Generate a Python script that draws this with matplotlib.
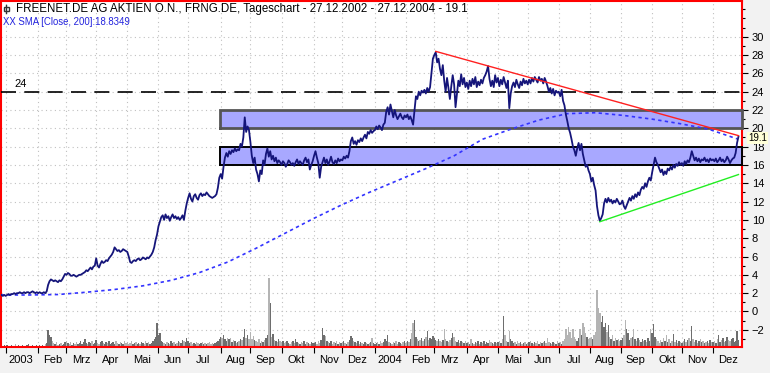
import matplotlib
matplotlib.use('Agg')
import matplotlib.pyplot as plt
import matplotlib.ticker as ticker
import numpy as np
import pandas as pd

title = 'FREENET.DE AG AKTIEN O.N., FRNG.DE, Tageschart - 27.12.2002 - 27.12.2004 - 19.1'
sma_title = 'XX SMA [Close, 200]:18.8349'
month_names = ['Jan', 'Feb', 'Mrz', 'Apr', 'Mai', 'Jun', 'Jul', 'Aug', 'Sep', 'Okt', 'Nov', 'Dez']

# daily closes, one row per month (Dez 2002 ... Dez 2004)
close = [
    1.8, 1.7, 1.8,
    1.7, 1.8, 1.9, 1.8, 1.9, 1.9, 2.0, 1.9, 2.0, 2.0, 2.1, 2.0, 2.0, 2.1, 2.0, 2.1, 2.1, 2.0, 2.1, 2.2, 2.1, 2.0, 2.1,
    2.0, 2.1, 2.0, 2.0, 2.1, 2.0, 2.2, 2.9, 3.3, 3.5, 3.4, 3.3, 3.4, 3.3, 3.2, 3.4, 3.3, 3.5, 3.8, 4.1,
    4.0, 4.2, 4.1, 3.9, 3.9, 4.0, 3.9, 3.8, 3.9, 4.0, 4.0, 4.1, 4.2, 4.3, 4.5, 4.4, 4.6, 4.8, 4.6, 4.9, 5.0,
    5.8, 5.0, 4.8, 5.2, 5.5, 5.3, 5.4, 5.6, 5.5, 5.8, 6.0, 6.2, 6.5, 7.0, 6.8, 6.6, 6.7, 6.5, 6.6, 6.8, 6.7, 6.6,
    6.5, 6.0, 5.4, 5.3, 5.5, 5.6, 5.5, 5.7, 5.8, 5.6, 5.7, 5.9, 5.8, 5.7, 5.9, 5.8, 6.0, 6.2, 6.5, 7.0, 7.8, 8.4,
    9.3, 9.8, 10.3, 10.5, 10.0, 10.6, 10.2, 10.4, 9.9, 10.3, 10.6, 10.2, 10.4, 10.1, 10.3, 10.0, 10.2, 10.5, 10.0, 11.0, 11.8,
    12.4, 12.9, 12.3, 12.0, 12.6, 12.8, 12.4, 12.2, 12.7, 12.9, 12.6, 12.8, 12.7, 13.0, 12.8, 12.6, 12.5, 12.4, 12.5, 12.6, 12.8, 13.5, 14.6,
    15.0, 14.5, 15.8, 16.8, 17.3, 16.9, 17.5, 17.2, 17.6, 17.4, 17.8, 17.5, 17.7, 17.6, 18.3, 18.0, 19.0, 21.2, 19.6, 20.2, 19.8,
    18.5, 17.0, 16.2, 16.8, 15.5, 15.0, 14.2, 15.4, 15.0, 16.5, 16.0, 17.2, 17.8, 16.9, 17.5, 16.6, 17.0, 16.4, 16.8, 16.2, 16.5, 16.3,
    16.0, 16.4, 16.2, 15.8, 16.1, 16.5, 16.3, 16.0, 16.2, 15.9, 16.3, 16.6, 16.1, 16.4, 16.2, 16.0, 16.5, 16.8, 16.3, 16.6, 15.5, 16.0, 16.4,
    17.0, 17.5, 16.8, 16.2, 14.6, 15.8, 16.3, 16.8, 16.2, 16.6, 16.0, 16.4, 16.9, 16.3, 16.1, 16.5, 16.2, 16.7, 16.4, 16.6,
    16.5, 16.9, 16.7, 17.0, 16.8, 17.5, 18.6, 19.0, 18.3, 18.6, 18.2, 18.7, 18.5, 18.9, 18.6, 19.0, 19.3, 18.9, 19.6, 19.4, 19.8, 19.5, 19.7,
    19.8, 20.2, 19.9, 20.3, 20.1, 19.8, 20.4, 20.6, 21.8, 22.3, 21.5, 22.6, 21.9, 21.2, 22.0, 21.4, 21.0, 21.3, 21.6, 21.2, 21.0, 21.4,
    21.2, 21.5, 21.0, 21.3, 20.9, 20.4, 22.0, 23.5, 23.2, 24.0, 23.6, 24.1, 23.9, 24.2, 23.8, 24.4, 24.0, 24.5, 26.0, 27.6,
    28.0, 28.3, 27.2, 27.6, 26.5, 25.8, 26.9, 25.2, 24.0, 25.5, 24.4, 23.2, 24.6, 25.8, 24.8, 22.3, 23.8, 25.2, 24.6, 25.9, 24.8, 25.5, 24.5,
    25.0, 24.3, 25.2, 24.6, 25.4, 24.8, 25.6, 24.5, 25.1, 24.7, 25.3, 24.9, 25.5, 25.8, 26.2, 26.8, 25.4, 24.6, 25.2, 24.5, 25.8, 25.0,
    25.5, 24.6, 25.3, 24.8, 25.6, 25.0, 24.4, 25.2, 22.2, 23.8, 24.6, 25.0, 24.5, 25.3, 24.8, 24.4, 25.1, 24.7, 25.4, 24.9, 25.2,
    24.8, 25.3, 24.9, 25.5, 25.1, 25.6, 25.3, 25.0, 25.6, 25.2, 25.4, 24.9, 25.5, 25.1, 24.6, 24.0, 24.4, 23.8, 24.3, 23.6, 24.1, 23.9,
    24.0, 23.5, 24.2, 23.0, 22.5, 21.5, 20.8, 20.0, 19.5, 18.8, 18.0, 17.6, 17.0, 17.8, 18.4, 17.6, 18.3, 17.2, 16.5, 15.8, 16.0, 15.4,
    15.0, 14.2, 14.6, 13.8, 13.2, 11.5, 10.5, 9.9, 10.2, 10.6, 11.8, 12.3, 11.9, 12.4, 12.0, 12.2, 11.8, 12.1, 11.9, 12.3, 12.0, 11.7,
    11.8, 12.1, 11.5, 11.2, 11.6, 12.0, 12.4, 12.1, 12.6, 12.3, 12.8, 12.5, 13.0, 12.7, 13.3, 13.6, 13.4, 14.0, 13.6, 14.2, 14.6, 14.3,
    15.2, 16.0, 16.8, 16.3, 16.0, 15.6, 15.2, 15.5, 14.9, 15.3, 15.0, 15.6, 15.4, 15.8, 15.5, 16.0, 15.7, 16.1, 15.9, 16.3, 16.0,
    16.2, 15.9, 16.4, 16.1, 16.5, 16.3, 16.8, 17.5, 17.0, 16.5, 16.8, 16.4, 16.7, 16.3, 16.6, 16.5, 16.8, 16.4, 16.6, 16.3, 16.7, 16.5,
    16.6, 16.4, 16.7, 16.3, 16.5, 16.8, 16.4, 16.6, 16.3, 16.5, 16.9, 16.6, 16.2, 16.5, 16.7, 16.8, 17.3, 18.4, 19.1,
]

# daily volume, relative units
volume = [
    1, 1, 2,
    1, 2, 1, 1, 2, 1, 1, 3, 1, 2, 1, 1, 2, 1, 1, 2, 3, 1, 1, 2, 1, 1, 2,
    1, 2, 1, 2, 1, 3, 4, 17, 12, 10, 6, 4, 3, 5, 2, 3, 4, 2, 3, 5,
    6, 4, 3, 5, 2, 4, 3, 5, 3, 4, 6, 3, 5, 8, 4, 3, 5, 4, 6, 3, 4,
    7, 4, 3, 5, 6, 4, 3, 5, 4, 6, 3, 4, 5, 3, 6, 4, 3, 5, 4, 3, 6, 4,
    5, 3, 4, 6, 3, 4, 5, 3, 4, 3, 5, 4, 3, 6, 4, 5, 3, 4, 6, 8, 10, 24,
    12, 14, 6, 5, 4, 3, 5, 4, 3, 6, 4, 5, 3, 4, 6, 5, 4, 7, 6, 5, 9,
    6, 4, 5, 3, 4, 3, 5, 4, 3, 4, 5, 3, 4, 3, 4, 5, 3, 4, 3, 4, 5, 6, 8,
    10, 9, 12, 8, 6, 9, 8, 9, 5, 7, 6, 4, 5, 6, 8, 7, 10, 18, 9, 12, 8,
    15, 8, 11, 7, 6, 5, 8, 4, 6, 5, 7, 9, 12, 69, 44, 10, 13, 7, 6, 5, 8, 6,
    5, 6, 4, 5, 6, 4, 3, 5, 6, 4, 8, 5, 4, 3, 5, 4, 6, 3, 5, 4, 3, 5, 4,
    4, 5, 3, 6, 4, 7, 19, 12, 11, 6, 5, 4, 6, 3, 5, 4, 6, 3, 5, 4,
    5, 6, 4, 3, 5, 7, 11, 9, 6, 5, 4, 6, 3, 5, 4, 3, 5, 4, 3, 4, 5, 9, 4,
    3, 4, 5, 3, 6, 4, 5, 8, 6, 12, 5, 4, 3, 5, 4, 6, 3, 5, 4, 3, 5, 6,
    4, 6, 5, 8, 14, 24, 27, 10, 8, 6, 7, 9, 6, 8, 10, 16, 7, 9, 8, 11,
    9, 7, 6, 8, 6, 5, 7, 18, 8, 6, 5, 7, 9, 14, 10, 6, 5, 7, 4, 6, 5, 4, 6,
    4, 5, 3, 8, 4, 3, 5, 4, 6, 3, 5, 4, 6, 3, 5, 4, 7, 5, 4, 3, 5, 4,
    5, 6, 4, 8, 31, 12, 6, 5, 16, 8, 6, 4, 5, 3, 6, 4, 5, 3, 4, 5, 3,
    4, 5, 6, 4, 3, 5, 4, 6, 3, 5, 4, 5, 6, 4, 9, 5, 4, 3, 5, 4, 3, 6,
    4, 5, 3, 6, 8, 18, 12, 20, 15, 9, 18, 10, 8, 6, 9, 18, 12, 24, 20, 14, 10, 8,
    9, 10, 8, 12, 15, 57, 39, 34, 25, 31, 20, 24, 15, 22, 10, 8, 12, 6, 9, 7, 8, 6,
    7, 9, 12, 27, 18, 14, 7, 9, 10, 18, 8, 6, 9, 7, 5, 8, 6, 7, 5, 9, 6, 18,
    14, 23, 10, 8, 6, 4, 7, 5, 9, 6, 12, 5, 8, 4, 6, 13, 5, 7, 4, 6, 5,
    4, 6, 8, 5, 7, 9, 6, 21, 8, 5, 7, 4, 6, 8, 5, 6, 4, 5, 6, 4, 7, 5,
    5, 6, 4, 8, 12, 5, 7, 9, 5, 6, 10, 7, 6, 8, 9, 5, 6, 16, 7,
]

# SMA 200, sampled every 20 trading days
sma_step = 20
sma = [1.8, 1.8, 1.85, 2.1, 2.4, 2.8, 3.4, 4.25, 5.4, 6.9, 8.5, 10.1, 11.6, 13.0,
       14.3, 15.6, 17.0, 18.8, 19.9, 20.9, 21.6, 21.7, 21.4, 21.0, 20.5, 19.9, 18.85]

# drawn objects: horizontal level, zones, trend lines
level_24 = 24
zone_start = '2003-08-01'
zone_upper = (20.0, 22.0)
zone_lower = (16.0, 18.0)
red_line_dates = ['2004-03-02', '2004-12-27']
red_line_vals = [28.4, 19.2]
green_line_dates = ['2004-08-11', '2004-12-27']
green_line_vals = [9.8, 14.95]
last_price = '19.1'

dates = pd.bdate_range('2002-12-27', '2004-12-27')
n = len(dates)
x = np.arange(n)
close = np.array(close[:n])
volume = np.array(volume[:n])

ymin, ymax = -3.88, 33.9
px_per_unit = 9.15

fig = plt.figure(figsize=(7.7, 3.73), dpi=100, facecolor='#f2f2f2')
ax = fig.add_axes([1 / 770, 26 / 373, 741 / 770, 346 / 373])
ax.set_facecolor('white')
ax.set_xlim(-0.3, n + 1.5)
ax.set_ylim(ymin, ymax)

# volume bars at the bottom
up = np.r_[True, close[1:] >= close[:-1]]
vcol = np.where(up, '#6e6e6e', '#b4b4b4')
ax.bar(x, volume / px_per_unit, bottom=ymin, width=1.0, color=vcol, linewidth=0, zorder=2)

# zones
x0 = dates.get_loc(pd.Timestamp(zone_start)) - 0.5
x1 = n + 1.5
for (lo, hi), ec, lw in [(zone_upper, '#555555', 2.0), (zone_lower, '#000000', 1.4)]:
    ax.fill_between([x0, x1], lo, hi, color='#a8a8ff', zorder=3, linewidth=0)
    ax.plot([x0, x1, x1, x0, x0], [lo, lo, hi, hi, lo], color=ec, lw=lw, zorder=4,
            solid_joinstyle='miter', clip_on=False)

# horizontal dashed level
ax.axhline(level_24, color='black', lw=1.2, ls=(0, (9, 5)), zorder=4)
ax.text(9, level_24 + 0.3, str(level_24), fontsize=8, family='Liberation Sans',
        va='bottom', ha='left', zorder=6)

# sma
sx = np.minimum(np.arange(len(sma)) * sma_step, n - 1)
ax.plot(sx, sma, color='#3333ff', lw=1.2, ls=(0, (2, 2)), zorder=5)

# price
ax.plot(x, close, color='#15157a', lw=1.3, zorder=6)

# trend lines
rx = [dates.get_loc(pd.Timestamp(d)) for d in red_line_dates]
gx = [dates.get_loc(pd.Timestamp(d)) for d in green_line_dates]
ax.plot(rx, red_line_vals, color='#ff2020', lw=1.0, zorder=7)
ax.plot(gx, green_line_vals, color='#22ee22', lw=1.0, zorder=7)

# axes, ticks, grid
ax.yaxis.tick_right()
ax.set_yticks(np.arange(-2, 31, 2))
ax.yaxis.set_minor_locator(ticker.MultipleLocator(1))
ax.yaxis.set_major_formatter(ticker.StrMethodFormatter('{x:.0f}'))
ax.tick_params(axis='y', which='major', length=4, width=0.8, pad=3, labelsize=8,
               direction='out', right=True, left=False)
ax.tick_params(axis='y', which='minor', length=2, width=0.8, right=True, left=False)

month_start = [i for i in range(1, n) if dates[i].month != dates[i - 1].month]
labels = []
for i in month_start:
    d = dates[i]
    labels.append(str(d.year) if d.month == 1 else month_names[d.month - 1])
ax.set_xticks(month_start)
ax.set_xticklabels([])
ax.set_xticks([i + 10.5 for i in month_start], minor=True)
ax.set_xticklabels(labels, minor=True)
ax.tick_params(axis='x', which='major', length=4, width=0.8, direction='out')
ax.tick_params(axis='x', which='minor', length=0, pad=6, labelsize=8)
for lab in ax.get_xticklabels(minor=True) + ax.get_yticklabels():
    lab.set_family('Liberation Sans')

ax.grid(True, which='major', color='#c0c0c0', lw=0.8, ls=(0, (1, 3)), zorder=1)
ax.set_axisbelow(True)

for s in ax.spines.values():
    s.set_color('#ff0000')
    s.set_linewidth(1.5)

# header texts
fig.text(16 / 770, 1 - 9 / 373, title, fontsize=8.3, family='Liberation Sans', va='center', ha='left')
fig.text(3 / 770, 1 - 22 / 373, sma_title, fontsize=6.9, family='Liberation Sans', va='center',
         ha='left', color='#2222dd')
fig.add_artist(plt.Line2D([6 / 770, 6 / 770], [1 - 5 / 373, 1 - 13 / 373], color='#333333', lw=1))
fig.add_artist(plt.Rectangle((4 / 770, 1 - 11 / 373), 5 / 770, 4 / 373, fill=False, ec='#333333', lw=1))

# last price tag, between the "20" and "18" labels
ax.text(1.008, (float(last_price) - 0.12 - ymin) / (ymax - ymin), last_price, transform=ax.transAxes,
        fontsize=7, family='Liberation Sans', va='center', ha='left', zorder=8,
        bbox=dict(boxstyle='square,pad=0.1', fc='#ffffd8', ec='none'), clip_on=False)

fig.savefig('out.png', dpi=100, facecolor=fig.get_facecolor())
